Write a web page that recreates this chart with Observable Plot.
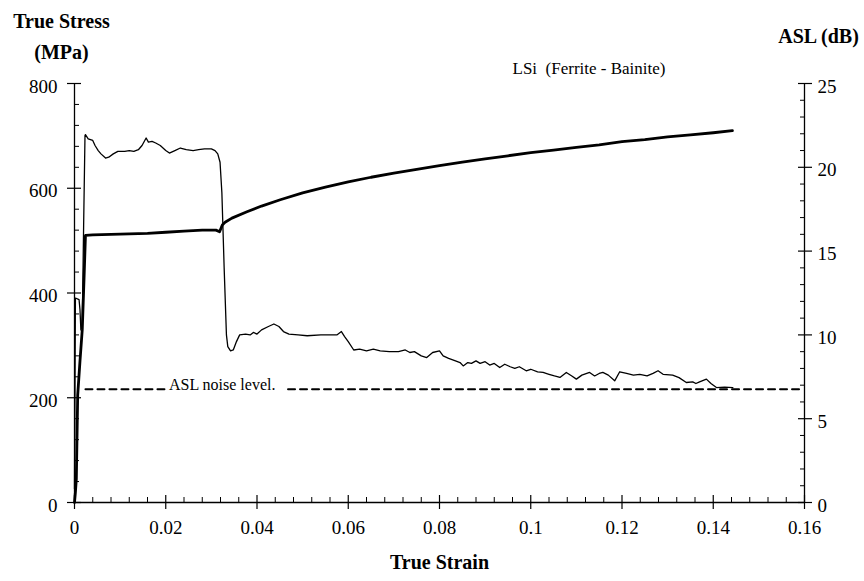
<!DOCTYPE html>
<html><head><meta charset="utf-8">
<script src="https://cdn.jsdelivr.net/npm/d3@7"></script>
<script src="https://cdn.jsdelivr.net/npm/@observablehq/plot@0.6"></script>
<style>html,body{margin:0;padding:0;background:#fff}</style>
</head><body><div id="chart"></div>
<script>
// ---- Data ----
const stressStrain = [0.0000,0.0002,0.0004,0.0007,0.0012,0.0017,0.0021,0.0024,0.0040,0.0080,0.0120,0.0160,0.0200,0.0240,0.0280,0.0310,0.0318,0.0324,0.0330,0.0345,0.0378,0.0410,0.0451,0.0500,0.0550,0.0600,0.0650,0.0700,0.0750,0.0800,0.0850,0.0900,0.0950,0.1000,0.1050,0.1100,0.1150,0.1200,0.1250,0.1300,0.1350,0.1400,0.1442];
const stressMPa    = [0,20,45,205,270,330,430,510,511,512,513,514,516,518,520,520,517,530,535,543,555,566,578,591,602,612,621,629,636,643,650,656,662,668,673,678,683,689,693,698,702,706,710];

const aslStrain = [0.0000,0.0002,0.0010,0.0012,0.0014,0.0017,0.0020,0.0023,0.0024,0.0030,0.0040,0.0045,0.0052,0.0058,0.0068,0.0075,0.0085,0.0095,0.0110,0.0120,0.0130,0.0140,0.0148,0.0157,0.0162,0.0170,0.0178,0.0188,0.0200,0.0208,0.0220,0.0232,0.0245,0.0260,0.0272,0.0285,0.0300,0.0308,0.0314,0.0319,0.0323,0.0328,0.0333,0.0336,0.0342,0.0348,0.0355,0.0362,0.0375,0.0385,0.0392,0.0400,0.0410,0.0425,0.0437,0.0448,0.0458,0.0470,0.0490,0.0510,0.0540,0.0575,0.0585,0.0592,0.0600,0.0612,0.0625,0.0640,0.0655,0.0670,0.0690,0.0710,0.0725,0.0735,0.0745,0.0760,0.0772,0.0785,0.0800,0.0808,0.0820,0.0835,0.0845,0.0852,0.0862,0.0870,0.0880,0.0889,0.0900,0.0910,0.0920,0.0932,0.0943,0.0955,0.0965,0.0975,0.0990,0.1000,0.1015,0.1027,0.1040,0.1052,0.1064,0.1078,0.1090,0.1100,0.1112,0.1129,0.1140,0.1150,0.1158,0.1170,0.1184,0.1195,0.1210,0.1225,0.1239,0.1255,0.1268,0.1279,0.1290,0.1311,0.1325,0.1341,0.1355,0.1362,0.1370,0.1385,0.1395,0.1407,0.1425,0.1443];
const aslDb     = [0.8,12.2,12.1,11.5,10.3,10.6,16.5,21.9,21.95,21.7,21.6,21.3,21.0,20.8,20.55,20.6,20.8,20.95,20.95,21.0,20.95,21.05,21.3,21.75,21.5,21.55,21.45,21.3,21.0,20.85,21.0,21.15,21.05,21.0,21.05,21.1,21.1,21.0,20.8,20.3,18.5,14.0,10.0,9.3,9.05,9.1,9.6,10.0,10.05,10.0,10.15,10.05,10.3,10.5,10.65,10.5,10.2,10.05,10.0,9.95,10.0,10.0,10.2,9.9,9.6,9.1,9.15,9.05,9.15,9.05,9.0,9.0,9.1,8.95,9.0,8.75,8.65,8.95,9.05,8.75,8.6,8.45,8.35,8.15,8.35,8.3,8.45,8.3,8.4,8.2,8.3,8.05,8.25,8.1,8.0,8.1,7.86,7.95,7.8,7.76,7.65,7.55,7.46,7.76,7.55,7.36,7.6,7.76,7.55,7.7,7.76,7.6,7.26,7.8,7.7,7.6,7.65,7.55,7.7,7.86,7.65,7.6,7.45,7.16,7.2,7.1,7.2,7.36,7.1,6.86,6.88,6.86];

const noiseLevelDb = 6.75;
const noiseSegStart = [0.0024, 0.0468];
const noiseSegEnd   = [0.0203, 0.1590];
const noiseLabel = "ASL noise level.";
const noiseLabelStrain = 0.0207;

const xTicks = [0, 0.02, 0.04, 0.06, 0.08, 0.1, 0.12, 0.14, 0.16];
const xTickLabels = ["0", "0.02", "0.04", "0.06", "0.08", "0.1", "0.12", "0.14", "0.16"];
const stressTicks = [0, 200, 400, 600, 800];
const aslTicks = [0, 5, 10, 15, 20, 25];

const seriesLabel = "LSi\u00a0 (Ferrite - Bainite)";
const xTitle = "True Strain";
const yTitle1 = "True Stress";
const yTitle2 = "(MPa)";
const y2Title = "ASL (dB)";

// ---- Build ----
const stressMax = 800, aslMax = 25;
const k = stressMax / aslMax; // dB -> MPa-axis units

const stressRows = stressStrain.map((s, i) => ({strain: s, v: stressMPa[i]}));
const aslRows = aslStrain.map((s, i) => ({strain: s, v: aslDb[i] * k}));
const noiseRows = noiseSegStart.flatMap((s, i) => [
  {seg: i, strain: s, v: noiseLevelDb * k},
  {seg: i, strain: noiseSegEnd[i], v: noiseLevelDb * k}
]);

const xMinor = d3.range(0, 0.1601, 0.004).filter(v => xTicks.every(t => Math.abs(t - v) > 1e-6));
const yMinor = d3.range(0, 801, 40).filter(v => v % 200 !== 0);
const aslTicksY = aslTicks.map(d => d * k);
const aslMinor = d3.range(0, 26, 1).filter(v => v % 5 !== 0).map(d => d * k);

const serif = "'Liberation Serif', 'Times New Roman', Times, serif";

const chart = Plot.plot({
  width: 864,
  height: 581,
  marginLeft: 74,
  marginRight: 60,
  marginTop: 83,
  marginBottom: 79,
  style: {fontFamily: serif, fontSize: "19px", color: "black", background: "white", overflow: "visible"},
  x: {domain: [0, 0.16], axis: null},
  y: {domain: [0, 800], axis: null},
  marks: [
    // axis lines
    Plot.ruleY([0], {strokeWidth: 1.3}),
    Plot.ruleX([0], {strokeWidth: 1.3}),
    Plot.ruleX([0.16], {strokeWidth: 1.3}),
    // left axis
    Plot.axisY(stressTicks, {anchor: "left", tickSize: 14, dx: 7, fill: "none", strokeWidth: 1.2}),
    Plot.axisY(yMinor, {anchor: "left", tickSize: 5, dx: 5, fill: "none"}),
    Plot.axisY(stressTicks, {anchor: "left", tickSize: 0, tickPadding: 17, dy: 3, label: null, fontSize: 19}),
    // right axis
    Plot.axisY(aslTicksY, {anchor: "right", tickSize: 14, dx: -7, fill: "none", strokeWidth: 1.2}),
    Plot.axisY(aslMinor, {anchor: "right", tickSize: 5, dx: -5, fill: "none"}),
    Plot.axisY(aslTicksY, {anchor: "right", tickSize: 0, tickPadding: 13, dy: 3, label: null, fontSize: 19,
      tickFormat: d => String(Math.round(d / k))}),
    // bottom axis
    Plot.axisX(xTicks, {anchor: "bottom", tickSize: 14, dy: -7, fill: "none", strokeWidth: 1.2}),
    Plot.axisX(xMinor, {anchor: "bottom", tickSize: 5, dy: -5, fill: "none"}),
    Plot.axisX(xTicks, {anchor: "bottom", tickSize: 0, tickPadding: 18, label: null, fontSize: 19,
      tickFormat: d => xTickLabels[xTicks.indexOf(d)]}),
    // noise level
    Plot.line(noiseRows, {x: "strain", y: "v", z: "seg", stroke: "black", strokeWidth: 2, strokeDasharray: "7,5"}),
    Plot.text([noiseLabel], {x: noiseLabelStrain, y: noiseLevelDb * k, textAnchor: "start", lineAnchor: "middle", dy: -4, fontSize: 16}),
    // ASL (thin)
    Plot.line(aslRows, {x: "strain", y: "v", stroke: "black", strokeWidth: 1.3}),
    // stress (thick)
    Plot.line(stressRows, {x: "strain", y: "v", stroke: "black", strokeWidth: 2.8}),
    // titles
    Plot.text([yTitle1], {frameAnchor: "top-left", dx: -13, dy: -62, textAnchor: "middle", lineAnchor: "middle", fontWeight: "bold", fontSize: 20}),
    Plot.text([yTitle2], {frameAnchor: "top-left", dx: -13, dy: -31, textAnchor: "middle", lineAnchor: "middle", fontWeight: "bold", fontSize: 20}),
    Plot.text([y2Title], {frameAnchor: "top-right", dx: 14, dy: -47, textAnchor: "middle", lineAnchor: "middle", fontWeight: "bold", fontSize: 20}),
    Plot.text([seriesLabel], {frameAnchor: "top-right", dx: -139, dy: -15, textAnchor: "end", lineAnchor: "middle", fontSize: 17}),
    Plot.text([xTitle], {frameAnchor: "bottom", dy: 60, textAnchor: "middle", lineAnchor: "middle", fontWeight: "bold", fontSize: 20})
  ]
});
document.getElementById("chart").append(chart);
</script>
</body></html>
